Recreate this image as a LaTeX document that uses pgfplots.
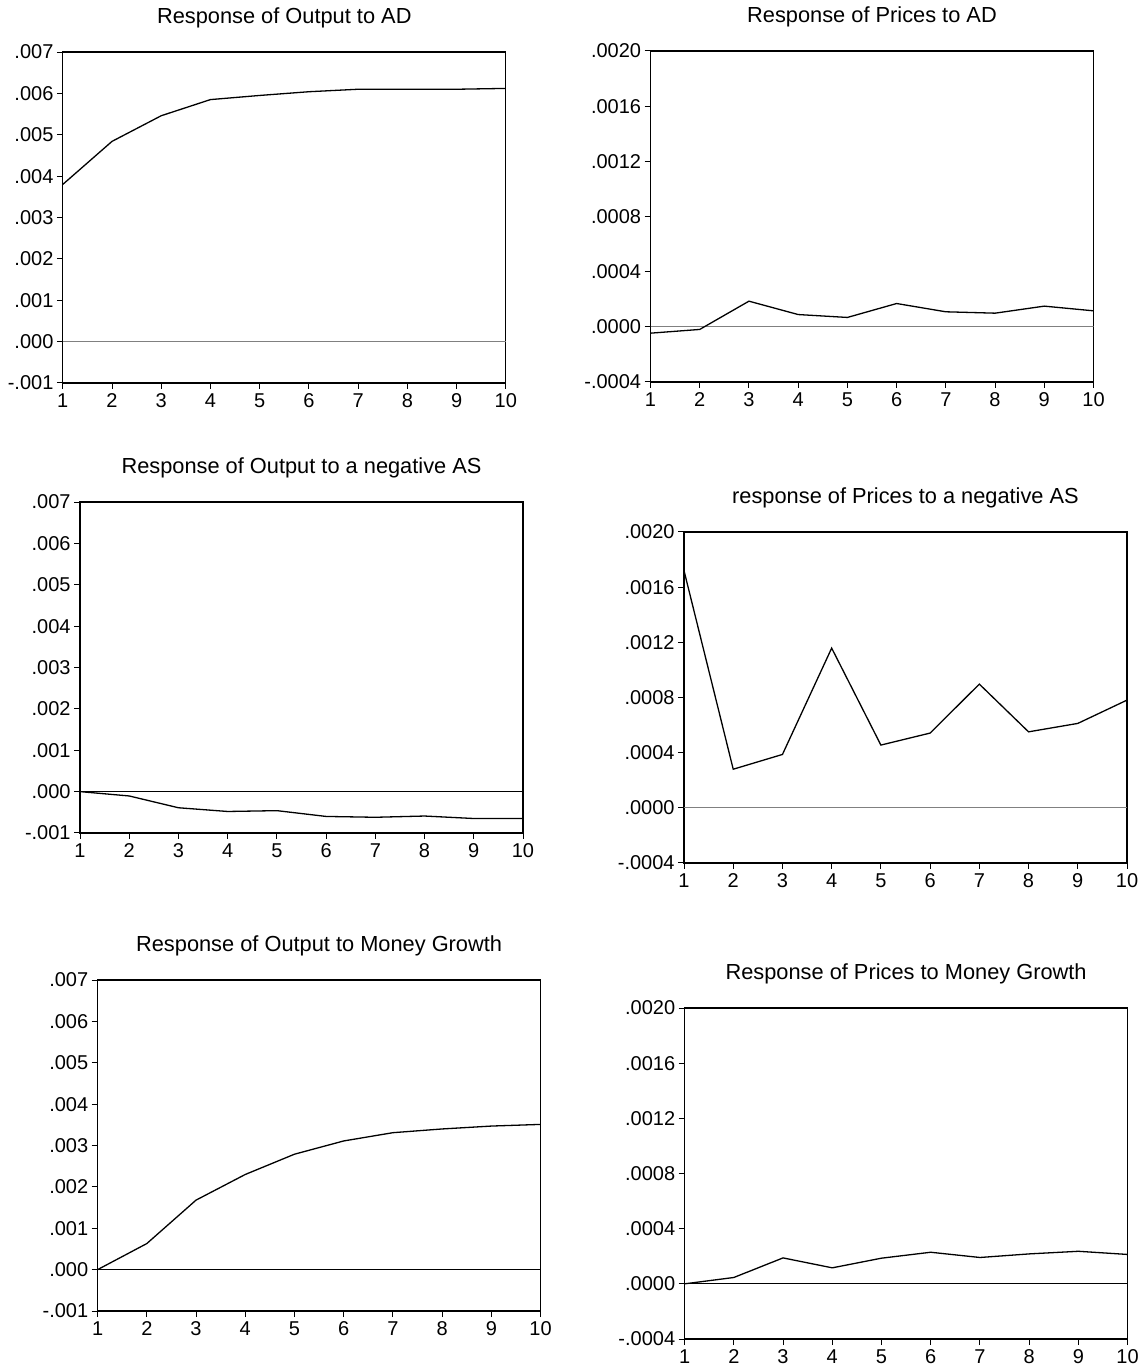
\documentclass[border=0pt]{standalone}
\usepackage{fontspec}
\setmainfont{Liberation Sans}
\usepackage{pgfplots}
\pgfplotsset{compat=1.18}
\pgfplotsset{
 irf/.style={
  scale only axis, width=221.5pt, height=165.5pt,
  anchor=south west,
  xmin=1, xmax=10, xtick={1,2,3,4,5,6,7,8,9,10},
  xticklabels={1,2,3,4,5,6,7,8,9,10},
  scaled y ticks=false, scaled x ticks=false,
  axis line style={line width=0.6pt},
  tick align=outside, xtick pos=bottom, ytick pos=left,
  major tick length=3pt,
  tick style={line width=0.5pt, black},
  tick label style={font=\fontsize{10}{12}\selectfont},
  xticklabel style={inner sep=1pt, yshift=-1pt},
  yticklabel style={inner sep=1.5pt},
  title style={font=\fontsize{10.9}{12}\selectfont, at={(0.5,1)}, anchor=center, yshift=11pt},
 },
 outs/.style={ymin=-0.001, ymax=0.007,
  ytick={-0.001,0,0.001,0.002,0.003,0.004,0.005,0.006,0.007},
  yticklabels={-.001,.000,.001,.002,.003,.004,.005,.006,.007}},
 prices/.style={ymin=-0.0004, ymax=0.002,
  ytick={-0.0004,0,0.0004,0.0008,0.0012,0.0016,0.002},
  yticklabels={-.0004,.0000,.0004,.0008,.0012,.0016,.0020}},
 resp/.style={black, line width=0.65pt, no markers},
 zero/.style={line width=0.5pt, no markers},
}
\begin{document}
\begin{tikzpicture}
\useasboundingbox (0,0) rectangle (569pt,683pt);

% Panel 1
\begin{axis}[irf, outs, at={(31.4pt,491.5pt)}, title={Response of Output to AD}]
\addplot[zero, gray] coordinates {(1,0) (10,0)};
\addplot[resp] coordinates {(1,0.0038) (2,0.00484) (3,0.00546) (4,0.00585) (5,0.00595) (6,0.00604) (7,0.0061) (8,0.0061) (9,0.0061) (10,0.00612)};
\end{axis}

% Panel 2
\begin{axis}[irf, prices, at={(325.25pt,492pt)}, title={Response of Prices to AD}]
\addplot[zero, gray] coordinates {(1,0) (10,0)};
\addplot[resp] coordinates {(1,-0.000046) (2,-0.000019) (3,0.000186) (4,0.000089) (5,0.000068) (6,0.000169) (7,0.000109) (8,0.000099) (9,0.00015) (10,0.000116)};
\end{axis}

% Panel 3
\begin{axis}[irf, outs, at={(40pt,266.5pt)}, title={Response of Output to a negative AS}]
\addplot[zero, black] coordinates {(1,0) (10,0)};
\addplot[resp] coordinates {(1,0.0) (2,-0.000105) (3,-0.00039) (4,-0.00048) (5,-0.00046) (6,-0.0006) (7,-0.00062) (8,-0.00059) (9,-0.00065) (10,-0.00065)};
\end{axis}

% Panel 4
\begin{axis}[irf, prices, at={(342pt,251.5pt)}, title={response of Prices to a negative AS}]
\addplot[zero, gray] coordinates {(1,0) (10,0)};
\addplot[resp] coordinates {(1,0.00172) (2,0.00028) (3,0.000387) (4,0.001158) (5,0.000455) (6,0.000542) (7,0.000897) (8,0.000551) (9,0.000612) (10,0.000781)};
\end{axis}

% Panel 5
\begin{axis}[irf, outs, at={(48.8pt,27.5pt)}, title={Response of Output to Money Growth}]
\addplot[zero, black] coordinates {(1,0) (10,0)};
\addplot[resp] coordinates {(1,0.0) (2,0.00063) (3,0.00168) (4,0.0023) (5,0.00279) (6,0.00311) (7,0.00331) (8,0.0034) (9,0.00347) (10,0.00351)};
\end{axis}

% Panel 6
\begin{axis}[irf, prices, at={(342.3pt,13.5pt)}, title={Response of Prices to Money Growth}]
\addplot[zero, black] coordinates {(1,0) (10,0)};
\addplot[resp] coordinates {(1,0.0) (2,0.000046) (3,0.000188) (4,0.000116) (5,0.000186) (6,0.000229) (7,0.000191) (8,0.000217) (9,0.000236) (10,0.000213)};
\end{axis}
\end{tikzpicture}
\end{document}
